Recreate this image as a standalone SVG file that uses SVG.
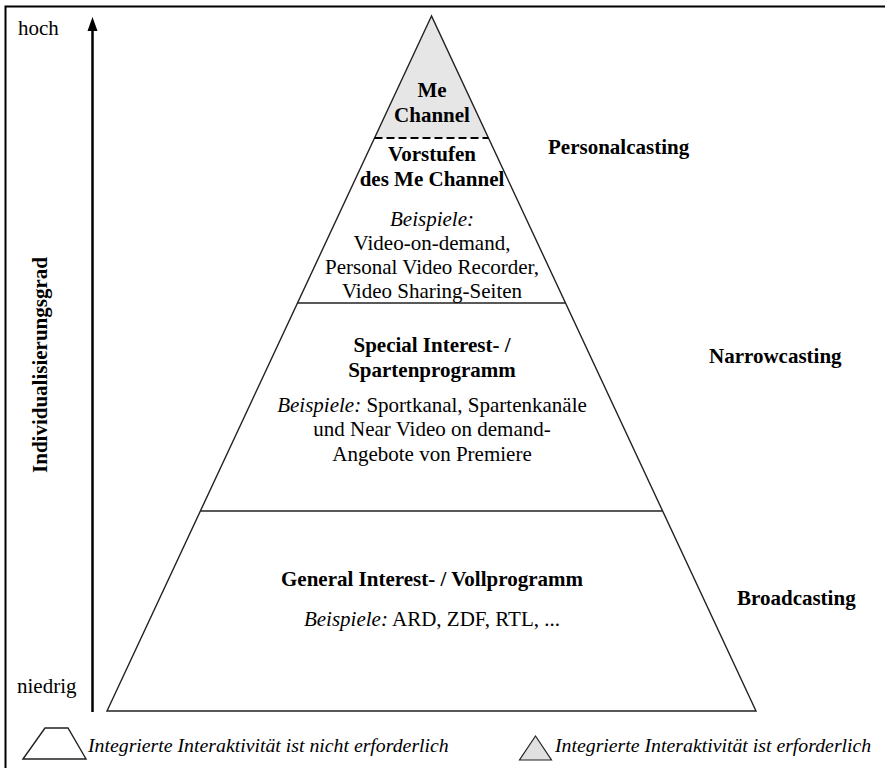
<svg xmlns="http://www.w3.org/2000/svg" width="885" height="768" viewBox="0 0 885 768">
<style>
text{font-family:"Liberation Serif","Times New Roman",serif;font-size:21px;fill:#000}
.b{font-weight:bold}
.i{font-style:italic}
.c{text-anchor:middle}
.lg{font-size:19.8px}
.ln{stroke:#222;stroke-width:1.4;fill:none}
</style>
<rect width="885" height="768" fill="#fff"/>
<g id="frame">
<path d="M5.5,768 V6.5 H885" fill="none" stroke="#000" stroke-width="2"/>
</g>
<g id="axis">
<line x1="92.5" y1="712" x2="92.5" y2="30" stroke="#000" stroke-width="2.5"/>
<polygon points="92.5,17 87.5,31 97.5,31" fill="#000"/>
<text x="18" y="35">hoch</text>
<text x="17" y="693">niedrig</text>
<text class="b c" transform="translate(47,365) rotate(-90)">Individualisierungsgrad</text>
</g>
<g id="pyramid">
<polygon points="431.5,16 374.5,138 488.5,138" fill="#e6e6e6"/>
<polygon class="ln" points="431.5,16 107,711 756,711"/>
<line x1="374.5" y1="138" x2="488.5" y2="138" stroke="#000" stroke-width="2" stroke-dasharray="8,4"/>
<line class="ln" x1="297.5" y1="303" x2="565.5" y2="303"/>
<line class="ln" x1="200.5" y1="511" x2="662.5" y2="511"/>
</g>
<g id="me-channel">
<text class="b c" x="432" y="97">Me</text>
<text class="b c" x="432" y="122">Channel</text>
</g>
<g id="vorstufen">
<text class="b c" x="432" y="161">Vorstufen</text>
<text class="b c" x="432" y="186">des Me Channel</text>
<text class="i c" x="432" y="226">Beispiele:</text>
<text class="c" x="432" y="250">Video-on-demand,</text>
<text class="c" x="432" y="274">Personal Video Recorder,</text>
<text class="c" x="432" y="298">Video Sharing-Seiten</text>
</g>
<g id="special">
<text class="b c" x="432" y="352">Special Interest- /</text>
<text class="b c" x="432" y="377">Spartenprogramm</text>
<text class="c" x="432" y="412"><tspan class="i">Beispiele:</tspan> Sportkanal, Spartenkanäle</text>
<text class="c" x="432" y="436">und Near Video on demand-</text>
<text class="c" x="432" y="461">Angebote von Premiere</text>
</g>
<g id="general">
<text class="b c" x="432" y="586">General Interest- / Vollprogramm</text>
<text class="c" x="432" y="626"><tspan class="i">Beispiele:</tspan> ARD, ZDF, RTL, ...</text>
</g>
<g id="levels">
<text class="b" x="548" y="154">Personalcasting</text>
<text class="b" x="709" y="363">Narrowcasting</text>
<text class="b" x="737" y="605">Broadcasting</text>
</g>
<g id="legend">
<polygon class="ln" points="23,759 45,728 68,728 86,759"/>
<text class="i lg" x="88" y="752">Integrierte Interaktivität ist nicht erforderlich</text>
<polygon points="535.5,736 519.5,760 551.5,760" fill="#e0e0e0" stroke="#222" stroke-width="1.2"/>
<text class="i lg" x="555" y="752">Integrierte Interaktivität ist erforderlich</text>
</g>
</svg>
